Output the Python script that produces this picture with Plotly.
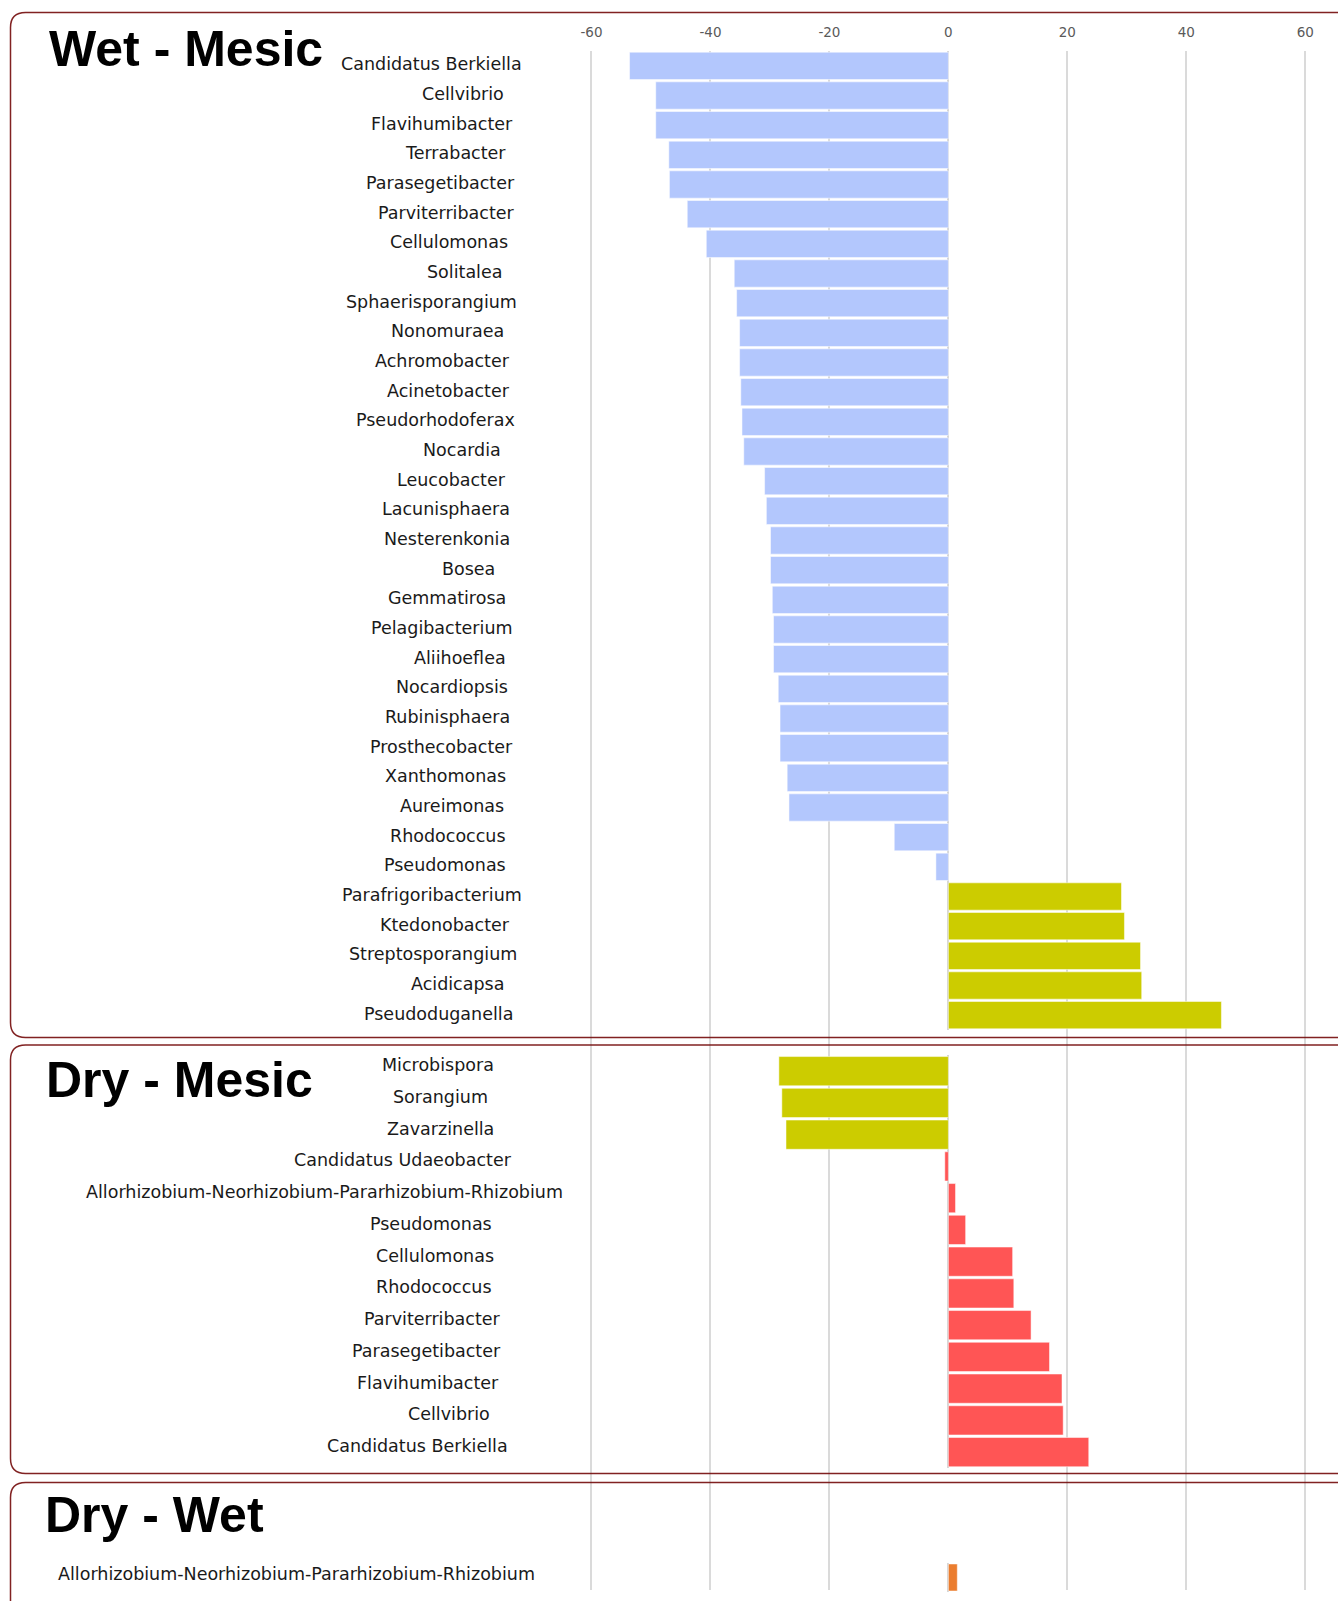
import plotly.graph_objects as go

W, H = 1338, 1601

# Wet - Mesic
wm_names = ["Candidatus Berkiella", "Cellvibrio", "Flavihumibacter", "Terrabacter",
            "Parasegetibacter", "Parviterribacter", "Cellulomonas", "Solitalea",
            "Sphaerisporangium", "Nonomuraea", "Achromobacter", "Acinetobacter",
            "Pseudorhodoferax", "Nocardia", "Leucobacter", "Lacunisphaera",
            "Nesterenkonia", "Bosea", "Gemmatirosa", "Pelagibacterium", "Aliihoeflea",
            "Nocardiopsis", "Rubinisphaera", "Prosthecobacter", "Xanthomonas",
            "Aureimonas", "Rhodococcus", "Pseudomonas", "Parafrigoribacterium",
            "Ktedonobacter", "Streptosporangium", "Acidicapsa", "Pseudoduganella"]
wm_values = [-53.6, -49.2, -49.2, -47.0, -46.9, -43.9, -40.7, -36.0, -35.6, -35.1,
             -35.1, -34.9, -34.7, -34.4, -30.9, -30.6, -29.9, -29.9, -29.6, -29.4,
             -29.4, -28.6, -28.3, -28.3, -27.1, -26.8, -9.1, -2.1, 29.1, 29.6,
             32.3, 32.5, 45.9]
wm_groups = ["Wet"] * 28 + ["Mesic"] * 5

# Dry - Mesic
dm_names = ["Microbispora", "Sorangium", "Zavarzinella", "Candidatus Udaeobacter",
            "Allorhizobium-Neorhizobium-Pararhizobium-Rhizobium", "Pseudomonas",
            "Cellulomonas", "Rhodococcus", "Parviterribacter", "Parasegetibacter",
            "Flavihumibacter", "Cellvibrio", "Candidatus Berkiella"]
dm_values = [-28.5, -28.0, -27.3, -0.6, 1.2, 2.9, 10.8, 11.0, 13.9, 17.0, 19.1, 19.3, 23.6]
dm_groups = ["Mesic"] * 3 + ["Dry"] * 10

# Dry - Wet
dw_names = ["Allorhizobium-Neorhizobium-Pararhizobium-Rhizobium"]
dw_values = [1.5]
dw_groups = ["Dry"]

x_ticks = [-60, -40, -20, 0, 20, 40, 60]


def px_x(p):
    return p / W


def px_y(p):
    return 1 - p / H


def rounded_box(x0, y0, x1, y1, r):
    """rounded rectangle path in paper coords (input in pixels)"""
    X = lambda v: f"{px_x(v):.5f}"
    Y = lambda v: f"{px_y(v):.5f}"
    return (f"M {X(x0 + r)} {Y(y0)} L {X(x1 - r)} {Y(y0)} Q {X(x1)} {Y(y0)} {X(x1)} {Y(y0 + r)} "
            f"L {X(x1)} {Y(y1 - r)} Q {X(x1)} {Y(y1)} {X(x1 - r)} {Y(y1)} "
            f"L {X(x0 + r)} {Y(y1)} Q {X(x0)} {Y(y1)} {X(x0)} {Y(y1 - r)} "
            f"L {X(x0)} {Y(y0 + r)} Q {X(x0)} {Y(y0)} {X(x0 + r)} {Y(y0)} Z")


panels = [
    dict(title="Wet - Mesic", names=wm_names, values=wm_values, groups=wm_groups,
         colors={"Wet": "#b3c7fd", "Mesic": "#cccc00"},
         top=51, bottom=1030, label_base=488, label_shift=1.5,
         title_pos=(47, 19.5), box=(10.5, 12.5, 1352, 1037.5)),
    dict(title="Dry - Mesic", names=dm_names, values=dm_values, groups=dm_groups,
         colors={"Mesic": "#cccc00", "Dry": "#ff5555"},
         top=1055.3, bottom=1468, label_base=474, label_shift=6,
         title_pos=(44, 1050), box=(10.5, 1045, 1352, 1473.5)),
    dict(title="Dry - Wet", names=dw_names, values=dw_values, groups=dw_groups,
         colors={"Dry": "#eb7d2f"},
         top=1562.8, bottom=1592.2, label_base=445.5, label_shift=3.5,
         title_pos=(43, 1484.5), box=(10.5, 1482.5, 1352, 1660)),
]

x_dom = [px_x(532), 1.0]
x_rng = [-70, 65.5]
grid_top, grid_bottom = 50.7, 1590

fig = go.Figure()
# empty trace so the background subplot (gridlines + top ticks) gets drawn
fig.add_trace(go.Scatter(x=[], y=[], xaxis="x", yaxis="y", mode="markers",
                         hoverinfo="skip"))

layout = dict(
    width=W, height=H, autosize=False,
    margin=dict(l=0, r=0, t=0, b=0, pad=0),
    paper_bgcolor="white", plot_bgcolor="rgba(0,0,0,0)",
    showlegend=False, bargap=0.08,
    font=dict(family="DejaVu Sans", color="black"),
    # background axis: only gridlines and the tick labels at the top
    xaxis=dict(domain=x_dom, range=x_rng, anchor="y", side="top",
               tickmode="array", tickvals=x_ticks, ticktext=[str(t) for t in x_ticks],
               ticks="", ticklabelstandoff=10,
               tickfont=dict(size=13.5, color="#5a5a5a", family="DejaVu Sans"),
               showgrid=True, gridcolor="#dadada", gridwidth=1.5,
               zeroline=True, zerolinecolor="rgba(0,0,0,0)", zerolinewidth=1,
               showline=False, fixedrange=True),
    yaxis=dict(domain=[px_y(grid_bottom), px_y(grid_top)], range=[0, 1],
               showticklabels=False, showgrid=False, zeroline=False, ticks="",
               anchor="x", fixedrange=True),
)

annotations = []
shapes = []
for i, p in enumerate(panels, start=2):
    xa, ya = f"x{i}", f"y{i}"
    n = len(p["names"])
    fig.add_trace(go.Bar(
        x=p["values"], y=p["names"], orientation="h",
        marker=dict(color=[p["colors"][g] for g in p["groups"]],
                    line=dict(color="white", width=0.5)),
        xaxis=xa, yaxis=ya, hoverinfo="x+y",
    ))
    layout[f"xaxis{i}"] = dict(domain=x_dom, range=x_rng, anchor=ya,
                               showticklabels=False, showgrid=False, ticks="",
                               zeroline=True, zerolinecolor="#d6d6d6", zerolinewidth=1.5,
                               fixedrange=True)
    layout[f"yaxis{i}"] = dict(domain=[px_y(p["bottom"]), px_y(p["top"])],
                               type="category", categoryorder="array",
                               categoryarray=p["names"], range=[n - 0.5, -0.5],
                               showticklabels=False, showgrid=False, zeroline=False,
                               anchor=xa, fixedrange=True)

    # category labels
    for name in p["names"]:
        right = p["label_base"] + 0.19 * 9.6 * len(name)
        annotations.append(dict(
            x=px_x(right), xref="paper", xanchor="right",
            y=name, yref=ya, yanchor="middle", yshift=p["label_shift"],
            text=name, showarrow=False,
            font=dict(size=17.5, family="DejaVu Sans", color="#1a1a1a"),
        ))

    # panel title
    tx, ty = p["title_pos"]
    annotations.append(dict(
        x=px_x(tx), xref="paper", xanchor="left",
        y=px_y(ty), yref="paper", yanchor="top",
        text=f"<b>{p['title']}</b>", showarrow=False,
        font=dict(size=50, family="Liberation Sans, Arial", color="black"),
    ))

    # rounded frame
    bx0, by0, bx1, by1 = p["box"]
    shapes.append(dict(type="path", xref="paper", yref="paper",
                       path=rounded_box(bx0, by0, bx1, by1, 15),
                       line=dict(color="rgba(115,10,10,0.9)", width=1.5),
                       fillcolor="rgba(0,0,0,0)"))

layout["annotations"] = annotations
layout["shapes"] = shapes
fig.update_layout(**layout)

fig.write_html("out.html", config={"displayModeBar": False},
               post_script="document.body.style.margin='0';document.body.style.overflow='hidden';")
